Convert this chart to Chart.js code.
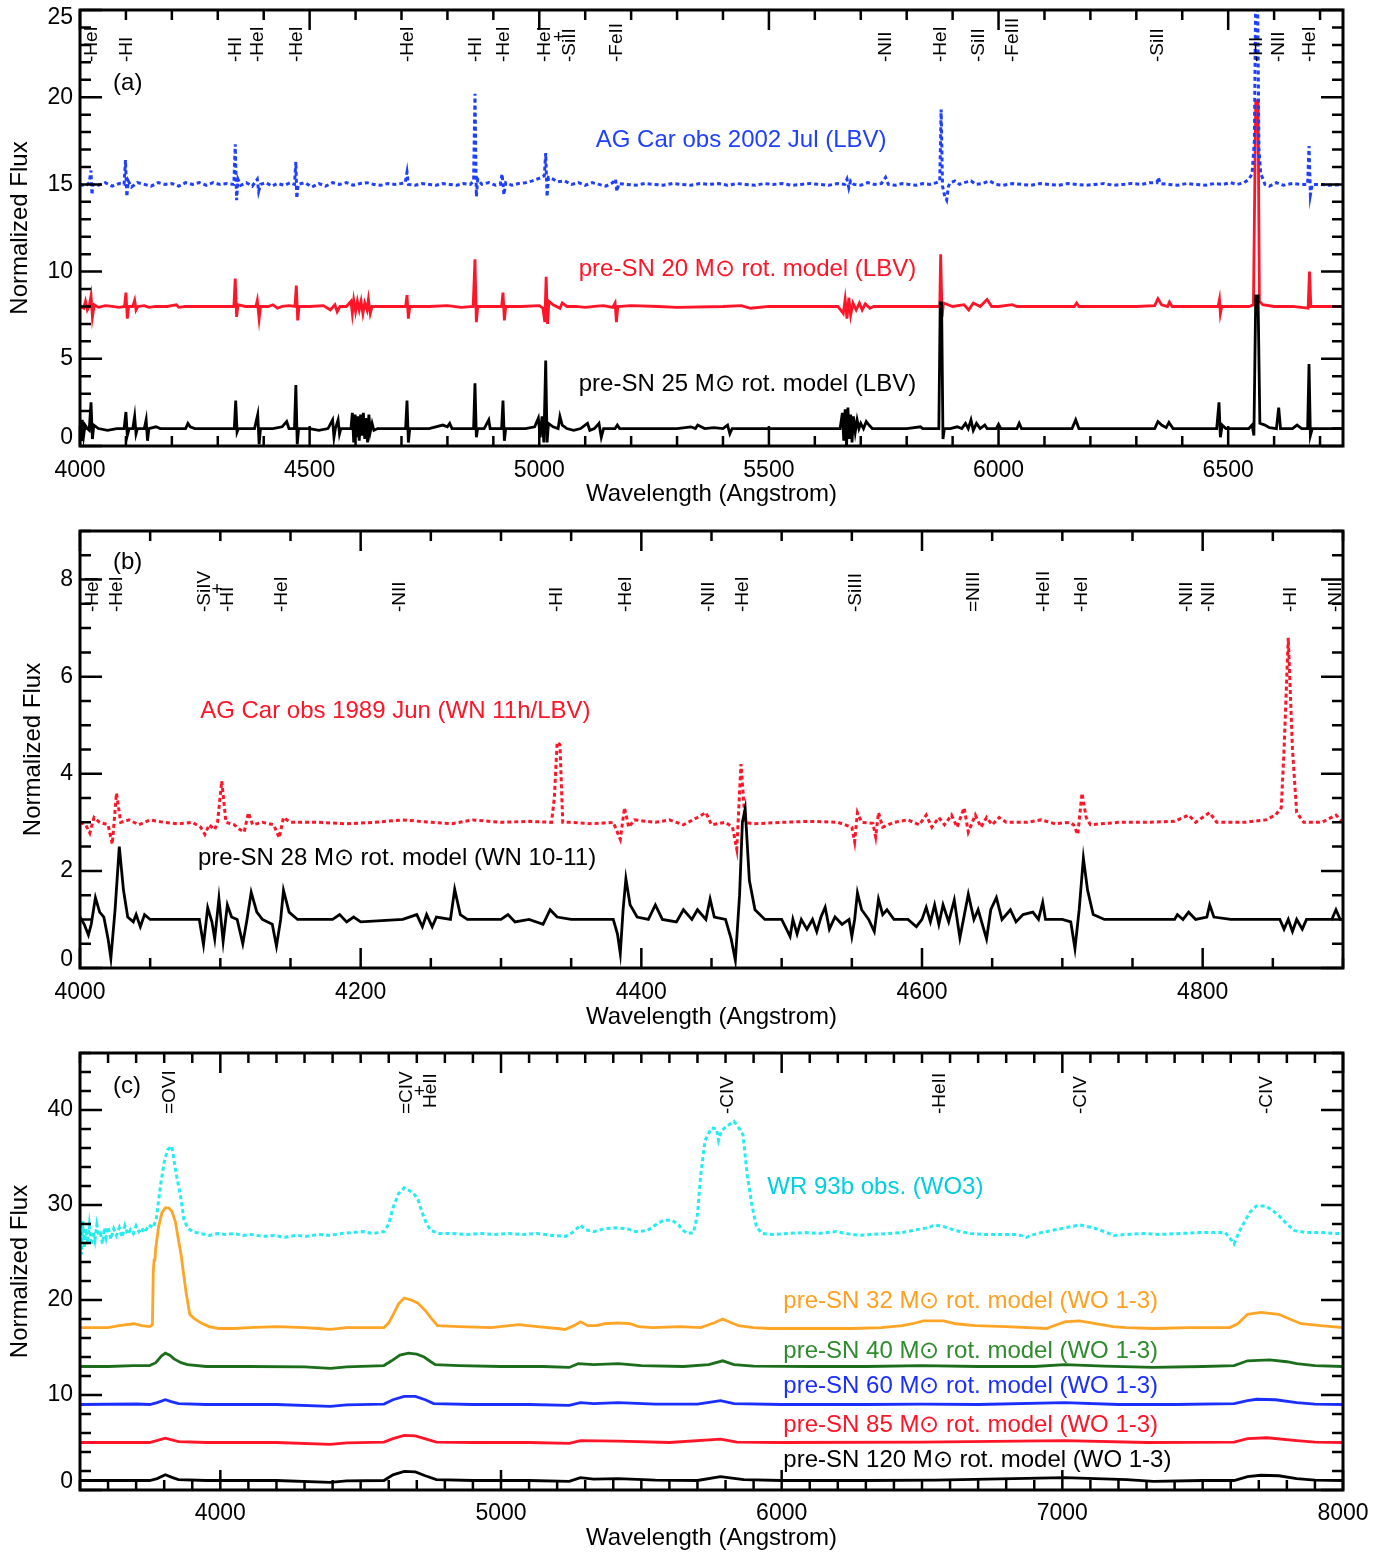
<!DOCTYPE html>
<html>
<head>
<meta charset="utf-8">
<title>AG Car / WR 93b spectra vs pre-SN models</title>
<script src="https://cdn.jsdelivr.net/npm/chart.js@4.4.1/dist/chart.umd.min.js"></script>
<style>
  body { margin: 0; background: #fff; }
  canvas { position: absolute; left: 0; }
</style>
</head>
<body>
<canvas id="panel-a" width="1396" height="520" style="top:0px"></canvas>
<canvas id="panel-b" width="1396" height="522" style="top:520px"></canvas>
<canvas id="panel-c" width="1396" height="513" style="top:1042px"></canvas>
<script>
// ---- panel (a): AG Car 2002 vs 20 / 25 Msun LBV models, [wavelength, flux]
const agCar2002 = [[4000,15.0],[4012,14.9],[4020,15.1],[4024,15.8],[4026,14.4],[4028,15.0],[4040,14.95],[4055,15.1],[4070,14.9],[4085,15.05],[4096,15.0],[4099,16.4],[4102,14.3],[4105,15.2],[4112,14.85],[4125,15.1],[4140,15.0],[4155,14.9],[4170,15.1],[4185,15.0],[4200,15.05],[4215,14.9],[4230,15.1],[4245,15.0],[4260,15.1],[4275,14.95],[4290,15.1],[4305,15.0],[4320,15.05],[4335,15.0],[4338,17.3],[4341,14.1],[4344,15.3],[4350,14.95],[4362,15.1],[4375,14.9],[4386,15.3],[4389,14.6],[4393,15.0],[4405,15.1],[4418,14.9],[4430,15.05],[4445,14.95],[4458,15.1],[4467,15.0],[4470,16.3],[4472,14.2],[4475,15.0],[4490,15.1],[4505,14.85],[4520,15.05],[4535,14.9],[4550,15.1],[4565,15.0],[4580,15.1],[4595,14.95],[4610,15.05],[4625,15.1],[4640,15.0],[4655,14.95],[4670,15.05],[4685,15.0],[4700,15.05],[4708,15.1],[4712,15.7],[4715,15.0],[4730,14.95],[4745,15.05],[4760,15.0],[4775,14.95],[4790,15.05],[4805,15.0],[4820,14.95],[4835,15.05],[4850,15.0],[4857,15.2],[4860,20.2],[4863,14.3],[4866,15.3],[4875,15.0],[4890,15.1],[4905,14.95],[4915,15.0],[4919,15.6],[4923,14.4],[4927,15.1],[4940,14.95],[4955,15.05],[4970,15.1],[4985,15.2],[4995,15.3],[5005,15.4],[5011,15.5],[5014,16.8],[5017,14.3],[5020,15.4],[5030,15.3],[5040,15.15],[5055,15.2],[5070,15.0],[5085,15.1],[5100,14.95],[5115,15.1],[5130,15.0],[5145,14.9],[5160,15.1],[5166,15.3],[5169,14.6],[5173,15.05],[5190,15.0],[5210,14.95],[5230,15.05],[5250,15.0],[5270,14.95],[5290,15.05],[5310,15.0],[5330,14.95],[5350,15.05],[5370,15.0],[5390,15.05],[5410,14.95],[5430,15.05],[5450,15.0],[5470,14.95],[5490,15.05],[5510,15.0],[5530,15.05],[5550,14.95],[5570,15.0],[5590,15.05],[5610,15.0],[5630,14.95],[5650,15.05],[5665,15.0],[5670,15.3],[5674,14.8],[5678,15.2],[5685,15.0],[5700,14.95],[5715,15.1],[5730,15.0],[5745,15.05],[5754,15.4],[5760,15.0],[5775,14.95],[5790,15.05],[5805,15.0],[5820,14.95],[5835,15.05],[5850,15.0],[5865,15.1],[5872,15.2],[5875,19.3],[5878,14.9],[5883,14.3],[5887,14.1],[5891,14.9],[5895,15.1],[5905,15.2],[5915,15.0],[5925,15.1],[5940,15.2],[5950,15.0],[5965,15.05],[5980,15.2],[5995,15.0],[6010,14.95],[6030,15.05],[6050,15.0],[6070,14.95],[6090,15.05],[6110,15.0],[6130,14.95],[6150,15.05],[6170,15.0],[6190,14.95],[6210,15.0],[6230,15.05],[6250,14.95],[6270,15.0],[6290,15.05],[6310,15.0],[6330,15.1],[6345,15.1],[6348,15.4],[6352,15.05],[6370,15.0],[6390,14.95],[6410,15.05],[6430,15.0],[6450,14.95],[6470,15.05],[6490,15.0],[6505,15.1],[6520,15.0],[6535,15.1],[6545,15.3],[6552,15.6],[6557,17.5],[6560,26.0],[6564,26.0],[6567,17.0],[6571,15.6],[6576,15.3],[6580,15.0],[6590,14.9],[6605,15.1],[6620,14.95],[6640,15.05],[6660,15.0],[6673,15.0],[6676,17.2],[6679,14.4],[6683,15.0],[6700,15.0],[6720,14.95],[6750,15.0]];

const model20 = [[4000,8.0],[4008,7.9],[4012,8.3],[4016,7.8],[4020,8.0],[4024,8.6],[4027,7.4],[4031,8.1],[4040,7.95],[4055,8.05],[4070,8.0],[4085,7.95],[4097,8.0],[4100,8.8],[4103,7.3],[4106,8.0],[4115,8.0],[4119,8.35],[4122,7.8],[4126,8.0],[4140,8.05],[4150,7.95],[4165,8.0],[4190,8.0],[4210,8.1],[4215,7.95],[4230,8.0],[4300,8.0],[4335,8.0],[4338,9.6],[4341,7.4],[4344,8.1],[4360,8.0],[4383,8.0],[4386,8.35],[4390,7.3],[4393,8.0],[4410,8.0],[4420,8.1],[4430,7.9],[4440,8.0],[4455,8.05],[4468,8.0],[4471,9.2],[4474,7.2],[4477,8.0],[4500,8.0],[4530,8.05],[4545,7.8],[4555,8.1],[4560,7.7],[4566,8.0],[4580,8.0],[4590,8.3],[4593,7.6],[4596,8.35],[4600,7.7],[4604,8.3],[4608,7.8],[4612,8.3],[4616,7.6],[4620,8.2],[4625,7.8],[4628,8.4],[4632,7.6],[4636,8.0],[4650,8.0],[4700,8.0],[4709,8.0],[4712,8.65],[4715,7.3],[4718,8.0],[4760,8.0],[4800,8.05],[4830,7.95],[4856,8.0],[4860,10.7],[4863,7.1],[4866,8.0],[4900,8.0],[4918,8.0],[4921,8.8],[4924,7.2],[4927,8.0],[4960,8.0],[5000,8.05],[5008,7.9],[5012,7.1],[5015,9.7],[5018,7.0],[5021,8.3],[5030,8.1],[5045,7.9],[5050,8.2],[5060,8.0],[5080,8.0],[5100,7.95],[5120,8.0],[5140,8.05],[5160,7.95],[5165,8.2],[5168,7.1],[5171,8.0],[5200,8.05],[5260,8.0],[5300,7.95],[5400,8.0],[5440,8.05],[5460,7.9],[5500,8.0],[5580,8.0],[5650,8.0],[5662,7.6],[5666,8.4],[5670,7.3],[5674,8.5],[5678,7.5],[5683,8.2],[5690,7.8],[5697,8.2],[5703,7.8],[5710,8.15],[5720,7.9],[5728,8.0],[5760,8.0],[5840,8.0],[5872,8.0],[5874,11.0],[5877,7.4],[5880,8.2],[5900,8.0],[5925,8.1],[5935,7.8],[5945,8.2],[5960,8.0],[5975,8.4],[5985,8.0],[6000,8.0],[6030,8.1],[6040,8.0],[6100,8.0],[6165,8.0],[6170,8.2],[6175,8.0],[6300,8.0],[6340,8.05],[6347,8.45],[6355,8.1],[6368,8.0],[6372,8.25],[6378,8.0],[6440,8.0],[6478,8.0],[6481,8.4],[6483,7.6],[6486,8.0],[6545,8.0],[6555,8.1],[6560,19.8],[6565,19.8],[6568,8.3],[6575,8.1],[6600,8.0],[6640,8.0],[6674,7.9],[6677,10.0],[6680,8.0],[6720,8.0],[6750,8.0]];

const model25 = [[4000,1.0],[4003,0.3],[4005,1.5],[4008,0.6],[4011,1.2],[4016,1.0],[4020,0.9],[4024,2.5],[4027,0.4],[4030,1.2],[4040,1.0],[4060,0.9],[4080,1.0],[4096,1.0],[4100,1.95],[4103,0.6],[4107,1.0],[4115,1.0],[4119,1.7],[4122,0.7],[4125,1.0],[4140,1.0],[4144,1.5],[4147,0.3],[4150,1.0],[4165,1.1],[4175,1.0],[4230,1.0],[4235,1.3],[4240,1.1],[4250,1.0],[4330,1.0],[4336,1.0],[4339,2.6],[4342,0.8],[4345,1.0],[4380,1.0],[4387,1.8],[4390,0.1],[4393,1.0],[4420,1.0],[4440,1.1],[4450,1.4],[4455,1.0],[4467,1.0],[4470,3.5],[4473,0.1],[4476,1.0],[4500,1.0],[4520,0.9],[4540,1.0],[4550,1.5],[4553,0.5],[4556,1.0],[4562,1.5],[4565,0.7],[4568,1.0],[4590,1.0],[4593,1.9],[4596,0.2],[4599,1.8],[4602,0.5],[4605,1.7],[4608,0.3],[4611,1.8],[4614,0.6],[4617,1.9],[4620,0.4],[4623,1.6],[4626,0.2],[4629,1.8],[4632,0.8],[4636,1.3],[4640,0.9],[4648,1.0],[4700,1.0],[4709,1.0],[4712,2.6],[4715,0.2],[4718,1.0],[4760,1.0],[4790,1.2],[4800,1.1],[4805,1.3],[4810,1.0],[4850,1.0],[4857,1.0],[4860,3.6],[4863,0.5],[4866,1.0],[4880,1.0],[4890,1.5],[4893,1.0],[4918,1.0],[4921,2.6],[4924,0.3],[4927,1.0],[4970,1.0],[4990,1.1],[4998,1.6],[5002,0.5],[5006,1.7],[5010,0.2],[5014,4.9],[5017,0.2],[5020,1.3],[5030,1.1],[5041,1.0],[5045,1.7],[5050,1.2],[5060,1.0],[5075,0.9],[5090,1.0],[5105,1.3],[5110,0.9],[5120,1.0],[5130,1.3],[5135,0.5],[5140,1.0],[5165,1.0],[5170,1.2],[5175,1.0],[5200,1.0],[5300,1.0],[5330,1.1],[5340,1.0],[5345,1.2],[5360,1.0],[5380,1.05],[5400,1.0],[5410,1.2],[5415,0.7],[5420,1.0],[5500,1.0],[5600,1.0],[5655,1.0],[5660,1.9],[5663,0.3],[5666,2.1],[5669,0.0],[5672,2.2],[5675,0.4],[5678,1.8],[5681,0.2],[5684,1.7],[5688,0.8],[5692,1.5],[5696,1.0],[5700,1.3],[5706,1.0],[5712,1.4],[5718,1.2],[5725,1.0],[5760,1.0],[5800,1.0],[5830,1.1],[5835,1.0],[5870,1.0],[5873,8.2],[5876,8.2],[5879,0.4],[5882,1.0],[5895,1.0],[5910,1.1],[5920,1.0],[5928,1.3],[5934,1.0],[5940,1.5],[5945,0.9],[5952,1.3],[5960,1.0],[5970,1.2],[5975,1.0],[5995,1.0],[6000,1.25],[6005,1.0],[6040,1.0],[6045,1.3],[6050,1.0],[6160,1.0],[6168,1.5],[6175,1.0],[6340,1.0],[6347,1.4],[6355,1.2],[6365,1.05],[6371,1.35],[6380,1.0],[6475,1.0],[6480,2.5],[6483,0.5],[6487,1.2],[6495,1.0],[6545,1.0],[6552,1.2],[6556,0.6],[6560,8.6],[6565,8.6],[6569,1.3],[6580,1.2],[6590,1.05],[6605,1.0],[6610,2.2],[6614,1.0],[6640,1.0],[6650,1.2],[6660,1.0],[6673,1.0],[6676,4.7],[6679,0.6],[6683,1.0],[6720,1.0],[6750,1.0]];

// ---- panel (b): AG Car 1989 vs 28 Msun WN model
const agCar1989 = [[4000,3.0],[4004,2.95],[4007,2.78],[4010,3.1],[4014,3.0],[4020,2.95],[4023,2.55],[4026,3.6],[4029,3.0],[4035,3.05],[4042,2.95],[4050,3.05],[4060,3.0],[4070,2.97],[4080,3.0],[4086,2.9],[4089,2.75],[4092,2.95],[4096,2.85],[4098,3.0],[4101,3.85],[4104,3.0],[4110,2.95],[4114,2.85],[4117,2.8],[4120,3.2],[4123,2.95],[4130,3.0],[4138,2.95],[4142,2.68],[4145,3.1],[4150,3.0],[4170,3.0],[4190,2.97],[4210,3.0],[4230,3.05],[4250,3.0],[4265,2.97],[4280,3.05],[4300,3.0],[4320,3.02],[4336,3.0],[4338,3.5],[4340,4.65],[4342,4.6],[4344,3.0],[4350,3.0],[4365,2.97],[4380,3.0],[4385,2.65],[4388,3.3],[4391,2.9],[4395,3.05],[4410,3.0],[4420,3.05],[4430,2.95],[4440,3.1],[4446,3.2],[4450,2.95],[4460,3.0],[4465,2.9],[4468,2.45],[4471,4.2],[4474,3.0],[4480,2.97],[4500,3.0],[4520,3.02],[4540,3.0],[4550,2.9],[4552,2.6],[4554,3.2],[4557,3.0],[4565,2.98],[4567,2.7],[4569,3.2],[4572,2.9],[4580,3.0],[4590,3.05],[4598,2.95],[4603,3.15],[4607,2.9],[4612,3.1],[4616,2.95],[4621,3.15],[4625,2.9],[4630,3.3],[4633,2.8],[4638,3.15],[4642,2.9],[4646,3.1],[4650,2.95],[4655,3.1],[4660,3.0],[4675,3.0],[4685,3.05],[4695,2.97],[4705,3.0],[4708,2.95],[4711,2.75],[4714,3.6],[4717,3.1],[4720,2.95],[4740,3.0],[4760,3.0],[4780,3.02],[4790,3.15],[4795,3.0],[4805,3.2],[4810,3.0],[4830,3.0],[4845,3.05],[4852,3.15],[4856,3.3],[4858,4.5],[4861,6.8],[4864,4.5],[4867,3.2],[4872,3.0],[4885,3.0],[4895,3.15],[4900,3.0]];

const model28 = [[4000,1.05],[4003,0.9],[4006,0.68],[4008,0.9],[4011,1.45],[4014,1.15],[4017,1.05],[4020,0.6],[4022,0.2],[4025,1.2],[4028,2.5],[4031,1.6],[4034,1.05],[4038,0.95],[4040,1.1],[4043,0.85],[4046,1.1],[4050,1.0],[4070,1.0],[4085,1.0],[4088,0.48],[4091,1.24],[4094,0.95],[4096,0.6],[4099,1.43],[4102,0.55],[4105,1.3],[4108,1.05],[4112,1.0],[4116,0.5],[4119,1.0],[4122,1.56],[4126,1.15],[4130,1.0],[4137,0.9],[4140,0.45],[4143,1.0],[4145,1.6],[4149,1.15],[4155,1.0],[4180,1.0],[4185,1.1],[4190,0.95],[4195,1.05],[4200,0.95],[4230,1.0],[4240,1.1],[4244,0.85],[4247,1.1],[4251,0.85],[4254,1.05],[4264,1.0],[4267,1.62],[4271,1.1],[4276,1.0],[4300,1.0],[4305,1.1],[4310,0.95],[4320,1.0],[4330,0.9],[4335,1.2],[4340,1.05],[4350,1.0],[4380,1.0],[4383,0.7],[4385,0.3],[4387,1.2],[4389,1.84],[4392,1.3],[4397,1.05],[4405,1.0],[4410,1.3],[4415,1.0],[4425,0.95],[4430,1.2],[4436,1.0],[4440,1.2],[4446,1.0],[4449,1.42],[4452,1.05],[4460,1.0],[4464,0.6],[4467,0.16],[4470,1.5],[4472,3.0],[4474,3.28],[4477,1.8],[4481,1.2],[4488,1.0],[4500,1.0],[4506,0.65],[4508,1.0],[4511,0.7],[4514,1.0],[4518,0.8],[4522,1.0],[4525,0.75],[4528,1.05],[4531,1.25],[4534,0.8],[4538,1.05],[4543,0.9],[4548,1.0],[4550,0.65],[4552,1.0],[4554,1.55],[4557,1.2],[4562,1.0],[4566,0.75],[4569,1.42],[4572,1.1],[4575,1.2],[4580,1.0],[4590,1.0],[4596,0.85],[4600,1.0],[4603,1.25],[4606,0.95],[4609,1.3],[4612,0.9],[4615,1.3],[4619,0.95],[4623,1.4],[4627,0.62],[4633,1.52],[4637,1.0],[4640,1.2],[4643,0.9],[4646,0.6],[4649,1.2],[4653,1.45],[4657,1.0],[4663,1.2],[4667,0.95],[4672,1.1],[4679,1.15],[4683,1.0],[4686,1.35],[4688,1.0],[4700,1.0],[4706,0.95],[4709,0.4],[4712,1.2],[4715,2.26],[4718,1.6],[4722,1.1],[4730,1.0],[4760,1.0],[4780,1.0],[4782,1.1],[4786,1.0],[4790,1.15],[4795,1.0],[4803,1.05],[4805,1.3],[4808,1.05],[4820,1.0],[4855,1.0],[4858,0.8],[4861,1.0],[4864,0.75],[4867,1.0],[4871,0.8],[4874,1.0],[4885,1.0],[4892,1.0],[4895,1.2],[4898,1.0],[4900,1.0]];

// ---- panel (c): WR 93b vs WO models
const wr93b = [[3500,26.5],[3505,24.8],[3510,28.3],[3515,25.5],[3520,27.5],[3527,26.0],[3533,27.8],[3540,25.8],[3547,27.2],[3553,26.3],[3560,27.9],[3567,26.8],[3573,27.0],[3580,25.9],[3587,27.6],[3593,26.6],[3600,27.7],[3610,26.4],[3620,27.5],[3630,26.8],[3640,27.6],[3650,26.6],[3660,27.8],[3670,26.9],[3680,27.4],[3690,27.0],[3700,27.8],[3710,27.2],[3720,27.6],[3730,27.1],[3745,27.9],[3760,27.6],[3772,28.6],[3788,32.3],[3800,34.5],[3812,35.8],[3827,36.2],[3842,33.4],[3859,30.8],[3870,28.5],[3883,27.6],[3900,27.2],[3930,27.0],[3960,26.8],[3990,27.0],[4020,26.9],[4050,27.0],[4080,26.8],[4110,26.9],[4150,26.7],[4190,26.8],[4230,26.6],[4270,26.8],[4310,26.7],[4350,26.9],[4390,26.8],[4430,27.0],[4470,27.1],[4510,27.2],[4545,27.0],[4584,27.2],[4600,28.0],[4615,29.7],[4635,31.2],[4655,31.8],[4687,31.3],[4705,30.5],[4719,29.2],[4735,28.0],[4751,27.3],[4780,27.0],[4830,27.0],[4880,26.9],[4930,27.0],[4980,26.9],[5030,27.0],[5080,26.9],[5130,27.0],[5180,26.8],[5230,26.7],[5260,27.2],[5283,27.9],[5300,27.4],[5330,27.2],[5370,27.5],[5410,27.6],[5450,27.5],[5480,27.2],[5520,27.3],[5550,27.9],[5580,28.4],[5610,28.4],[5633,27.9],[5650,27.3],[5665,27.0],[5686,27.1],[5700,29.0],[5711,33.0],[5727,36.8],[5750,38.1],[5768,38.0],[5775,36.8],[5785,37.8],[5800,38.2],[5830,38.8],[5850,38.0],[5862,37.4],[5878,33.0],[5894,30.0],[5910,27.7],[5930,27.0],[5970,26.9],[6020,27.0],[6080,27.1],[6130,27.0],[6195,27.2],[6230,27.0],[6276,26.8],[6320,26.9],[6380,27.0],[6430,27.1],[6480,27.4],[6520,27.6],[6546,27.9],[6580,27.7],[6620,27.3],[6673,27.0],[6720,26.9],[6780,26.9],[6840,26.9],[6872,26.6],[6910,27.0],[6960,27.3],[7010,27.6],[7063,27.9],[7110,27.6],[7150,27.2],[7183,26.8],[7230,26.9],[7290,27.0],[7350,26.9],[7420,27.0],[7490,27.1],[7550,27.1],[7580,27.1],[7600,26.4],[7612,25.9],[7630,27.2],[7652,28.4],[7670,29.3],[7692,29.9],[7724,29.9],[7750,29.4],[7771,28.9],[7800,28.0],[7828,27.3],[7870,27.1],[7920,27.1],[7978,27.0],[8000,27.0]];

const model32 = [[3500,17.1],[3550,17.1],[3600,17.1],[3640,17.3],[3692,17.5],[3720,17.3],[3748,17.2],[3758,17.4],[3761,23.0],[3764,24.2],[3767,24.3],[3770,25.5],[3780,27.7],[3792,29.2],[3804,29.7],[3816,29.7],[3828,29.3],[3840,28.2],[3851,26.3],[3860,24.8],[3867,23.2],[3878,20.8],[3891,18.5],[3905,18.1],[3930,17.6],[3960,17.2],[3995,17.0],[4050,17.0],[4100,17.1],[4201,17.2],[4300,17.1],[4350,17.0],[4392,16.9],[4450,17.1],[4583,17.1],[4600,17.6],[4615,18.4],[4635,19.6],[4655,20.2],[4680,20.0],[4703,19.7],[4730,18.9],[4751,18.1],[4774,17.3],[4850,17.2],[4965,17.1],[5061,17.4],[5130,17.2],[5200,17.0],[5228,16.9],[5260,17.3],[5283,17.7],[5310,17.3],[5340,17.3],[5370,17.5],[5418,17.6],[5460,17.5],[5490,17.2],[5540,17.1],[5639,17.2],[5711,17.1],[5760,17.6],[5790,18.0],[5820,17.6],[5846,17.3],[5900,17.1],[5956,17.0],[6100,17.0],[6250,17.0],[6355,17.1],[6430,17.3],[6466,17.5],[6505,17.8],[6577,17.8],[6620,17.5],[6689,17.3],[6800,17.2],[6944,17.0],[6980,17.4],[7008,17.7],[7060,17.8],[7103,17.6],[7180,17.2],[7229,17.1],[7325,17.0],[7450,17.1],[7596,17.1],[7625,17.5],[7660,18.5],[7707,18.7],[7771,18.5],[7810,18.0],[7851,17.5],[7920,17.3],[8000,17.1]];

const model40 = [[3500,13.0],[3600,13.0],[3690,13.1],[3748,13.1],[3770,13.4],[3790,14.1],[3804,14.4],[3820,14.2],[3835,13.8],[3860,13.4],[3883,13.2],[3950,13.0],[4100,13.0],[4300,12.95],[4392,12.8],[4450,12.95],[4583,13.1],[4610,13.6],[4640,14.2],[4670,14.4],[4700,14.3],[4726,14.0],[4750,13.5],[4766,13.2],[4850,13.1],[5000,13.0],[5150,13.0],[5243,12.9],[5275,13.3],[5330,13.2],[5418,13.3],[5500,13.1],[5650,13.0],[5740,13.2],[5790,13.6],[5830,13.2],[5900,13.05],[6100,13.0],[6300,13.0],[6500,13.1],[6700,13.0],[6900,13.0],[7008,13.2],[7150,13.05],[7325,12.9],[7500,13.0],[7612,13.1],[7660,13.6],[7739,13.7],[7800,13.5],[7835,13.3],[7900,13.1],[8000,13.0]];

const model60 = [[3500,9.0],[3700,9.05],[3748,9.0],[3775,9.2],[3804,9.5],[3825,9.3],[3851,9.1],[3950,9.0],[4200,9.0],[4392,8.8],[4450,8.95],[4583,9.05],[4615,9.5],[4655,9.85],[4695,9.85],[4730,9.5],[4760,9.1],[4900,9.0],[5100,9.0],[5243,8.9],[5283,9.2],[5330,9.1],[5418,9.2],[5550,9.05],[5700,9.05],[5782,9.4],[5830,9.1],[6000,9.0],[6300,9.0],[6500,9.05],[6700,9.0],[7008,9.2],[7200,9.0],[7400,9.0],[7612,9.1],[7660,9.4],[7692,9.55],[7760,9.5],[7835,9.2],[7900,9.05],[8000,9.0]];

const model85 = [[3500,5.0],[3748,5.0],[3804,5.45],[3851,5.1],[3950,5.0],[4200,5.0],[4392,4.8],[4450,4.95],[4583,5.05],[4615,5.4],[4655,5.75],[4695,5.7],[4740,5.3],[4770,5.05],[4900,5.0],[5100,5.0],[5243,4.9],[5283,5.2],[5418,5.15],[5600,5.0],[5782,5.35],[5840,5.05],[6000,5.0],[6500,5.05],[7008,5.2],[7300,5.0],[7612,5.05],[7660,5.4],[7730,5.5],[7835,5.2],[7900,5.05],[8000,5.0]];

const model120 = [[3500,1.0],[3748,1.0],[3775,1.2],[3804,1.6],[3830,1.3],[3851,1.1],[3950,1.0],[4200,1.0],[4392,0.8],[4450,0.95],[4583,1.0],[4615,1.6],[4655,1.95],[4695,1.9],[4730,1.5],[4770,1.1],[4900,1.0],[5100,1.0],[5243,0.9],[5283,1.3],[5330,1.15],[5418,1.2],[5550,1.05],[5700,1.0],[5782,1.4],[5865,1.1],[6000,1.0],[6300,1.0],[6550,1.05],[7008,1.3],[7229,1.1],[7325,0.9],[7500,1.0],[7612,1.0],[7660,1.4],[7707,1.55],[7771,1.5],[7835,1.2],[7900,1.05],[8000,1.0]];

// tick labels
const xTicksA = [4000, 4500, 5000, 5500, 6000, 6500];
const yTicksA = [0, 5, 10, 15, 20, 25];
const xTicksB = [4000, 4200, 4400, 4600, 4800];
const yTicksB = [0, 2, 4, 6, 8];
const xTicksC = [4000, 5000, 6000, 7000, 8000];
const yTicksC = [0, 10, 20, 30, 40];

// line identifications along the top of each panel
const linesA = [[4026,'-HeI'],[4102,'-HI'],[4340,'-HI'],[4388,'-HeI'],[4471,'-HeI'],[4713,'-HeI'],[4861,'-HI'],[4922,'-HeI'],[5012,'-HeI'],[5066,'-SiII'],[5169,'-FeII'],[5754,'-NII'],[5875,'-HeI'],[5958,'-SiII'],[6032,'-FeIII'],[6347,'-SiII'],[6563,'-HI'],[6611,'-NII'],[6678,'-HeI']];
const linesB = [[4009,'-HeI'],[4026,'-HeI'],[4089,'-SiIV'],[4105,'-HI'],[4144,'-HeI'],[4228,'-NII'],[4340,'-HI'],[4389,'-HeI'],[4448,'-NII'],[4472,'-HeI'],[4553,'-SiIII'],[4637,'=NIII'],[4687,'-HeII'],[4714,'-HeI'],[4789,'-NII'],[4804,'-NII'],[4863,'-HI'],[4895,'-NII']];
const linesC = [[3821,'=OVI'],[4666,'=CIV'],[4751,'HeII',6],[5807,'-CIV'],[6562,'-HeII'],[7065,'-CIV'],[7728,'-CIV']];

// text notes: [wavelength, flux, text, colour]
const notesA = [[4072,20.8,'(a)','#000'],[5123,17.5,'AG Car obs 2002 Jul (LBV)','#1f3fff'],[5086,10.1,'pre-SN 20 M\u2299 rot. model (LBV)','#ff1428'],[5086,3.55,'pre-SN 25 M\u2299 rot. model (LBV)','#000']];
const notesB = [[4023.5,8.35,'(b)','#000'],[4085.6,5.29,'AG Car obs 1989 Jun (WN 11h/LBV)','#ff1428'],[4084,2.26,'pre-SN 28 M\u2299 rot. model (WN 10-11)','#000']];
const notesC = [[3618,42.5,'(c)','#000'],[5949,31.9,'WR 93b obs. (WO3)','#00cfe0'],[6006,19.9,'pre-SN 32 M\u2299 rot. model (WO 1-3)','#ffa020'],[6006,14.6,'pre-SN 40 M\u2299 rot. model (WO 1-3)','#2e8b2e'],[6006,10.9,'pre-SN 60 M\u2299 rot. model (WO 1-3)','#1a2eff'],[6006,6.8,'pre-SN 85 M\u2299 rot. model (WO 1-3)','#ff1428'],[6006,3.16,'pre-SN 120 M\u2299 rot. model (WO 1-3)','#000']];

const FONT = '"Liberation Sans", Arial, Helvetica, sans-serif';
Chart.defaults.font.family = FONT;
Chart.defaults.color = '#000';

const line = (pts, color, dotted, order) => ({
  data: pts.map(([x, y]) => ({x, y})),
  borderColor: color,
  borderWidth: dotted ? 3 : 2.8,
  borderDash: dotted ? [4, 3] : [],
  pointRadius: 0,
  tension: 0,
  order: order,
});

// IDL style box: frame, inward ticks on all sides, y labels, line ids and notes
const boxPlugin = (spec) => ({
  id: 'box',
  afterDatasetsDraw(chart) {
    const {ctx, chartArea: a, scales: {x, y}} = chart;
    ctx.save();
    ctx.strokeStyle = '#000';
    ctx.lineWidth = 2.5;
    ctx.beginPath();
    for (let v = x.min; v <= x.max + 1e-6; v += spec.xMinor) {
      const px = x.getPixelForValue(v);
      const len = spec.xTicks.some((t) => Math.abs(t - v) < 1e-6) ? 20 : 10;
      ctx.moveTo(px, a.top); ctx.lineTo(px, a.top + len);
      ctx.moveTo(px, a.bottom); ctx.lineTo(px, a.bottom - len);
    }
    for (let v = y.min; v <= y.max + 1e-6; v += spec.yMinor) {
      const py = y.getPixelForValue(v);
      const len = spec.yTicks.some((t) => Math.abs(t - v) < 1e-6) ? 22 : 11;
      ctx.moveTo(a.left, py); ctx.lineTo(a.left + len, py);
      ctx.moveTo(a.right, py); ctx.lineTo(a.right - len, py);
    }
    ctx.stroke();
    ctx.lineWidth = 3;
    ctx.strokeRect(a.left, a.top, a.right - a.left, a.bottom - a.top);

    // y tick labels, end labels kept inside the box height
    ctx.fillStyle = '#000';
    ctx.font = '23px ' + FONT;
    ctx.textAlign = 'right';
    ctx.textBaseline = 'middle';
    spec.yTicks.forEach((v) => {
      const py = Math.min(Math.max(y.getPixelForValue(v), a.top + 8), a.bottom - 8);
      ctx.fillText(String(v), a.left - 7, py);
    });

    // rotated line identifications
    ctx.font = '19px ' + FONT;
    ctx.textAlign = 'left';
    spec.lines.forEach(([wl, txt, dy]) => {
      ctx.save();
      ctx.translate(x.getPixelForValue(wl), a.top + spec.lineBase - (dy || 0));
      ctx.rotate(-Math.PI / 2);
      ctx.fillText(txt, 0, 0);
      ctx.restore();
    });
    ctx.textAlign = 'center';
    spec.plus.forEach(([wl, off]) => {
      ctx.fillText('+', x.getPixelForValue(wl), a.top + off);
    });

    ctx.font = '24px ' + FONT;
    ctx.textAlign = 'left';
    spec.notes.forEach(([wl, f, txt, col]) => {
      ctx.fillStyle = col;
      ctx.fillText(txt, x.getPixelForValue(wl), y.getPixelForValue(f));
    });
    ctx.restore();
  },
});

function makeScales(o) {
  return {
    x: {
      type: 'linear', min: o.xMin, max: o.xMax,
      grid: {display: false, drawTicks: false},
      border: {display: false},
      afterBuildTicks: (s) => { s.ticks = o.xTicks.map((v) => ({value: v})); },
      afterFit: (s) => { s.height = o.xHeight; s.paddingLeft = 0; s.paddingRight = 0; },
      ticks: {padding: o.xTickPad, font: {size: 23}, autoSkip: false, maxRotation: 0, callback: (v) => String(v)},
      title: {display: true, text: 'Wavelength (Angstrom)', font: {size: 24}, padding: {top: 0, bottom: o.xTitlePad}},
    },
    y: {
      type: 'linear', min: o.yMin, max: o.yMax,
      grid: {display: false, drawTicks: false},
      border: {display: false},
      afterBuildTicks: (s) => { s.ticks = o.yTicks.map((v) => ({value: v})); },
      afterFit: (s) => { s.width = 80; s.paddingTop = 0; s.paddingBottom = 0; },
      ticks: {display: false},
      title: {display: true, text: 'Normalized Flux', font: {size: 24}, padding: {top: o.yTitlePad, bottom: 0}},
    },
  };
}

function drawPanel(id, datasets, o, spec) {
  return new Chart(document.getElementById(id), {
    type: 'line',
    data: {datasets: datasets},
    options: {
      responsive: false,
      animation: false,
      layout: {padding: {left: 0, right: 53, top: o.top, bottom: 0}},
      plugins: {legend: {display: false}, tooltip: {enabled: false}},
      scales: makeScales(o),
    },
    plugins: [boxPlugin(spec)],
  });
}

drawPanel('panel-a', [
  line(agCar2002, '#1f3fff', true, 0),
  line(model25, '#000', false, 1),
  line(model20, '#ff1428', false, 2),
], {xMin: 4000, xMax: 6750, xTicks: xTicksA, yMin: 0, yMax: 25, yTicks: yTicksA, top: 10, xHeight: 74, xTickPad: 11, xTitlePad: 11, yTitlePad: 6},
{xTicks: xTicksA, xMinor: 100, yTicks: yTicksA, yMinor: 1, lines: linesA, lineBase: 52, plus: [[5042, 28]], notes: notesA});

drawPanel('panel-b', [
  line(model28, '#000', false, 0),
  line(agCar1989, '#ff1428', true, 1),
], {xMin: 4000, xMax: 4900, xTicks: xTicksB, yMin: 0, yMax: 9, yTicks: yTicksB, top: 11, xHeight: 74, xTickPad: 11, xTitlePad: 10, yTitlePad: 19},
{xTicks: xTicksB, xMinor: 50, yTicks: yTicksB, yMinor: 0.5, lines: linesB, lineBase: 81, plus: [[4097.7, 59]], notes: notesB});

drawPanel('panel-c', [
  line(wr93b, '#22eef0', true, 0),
  line(model32, '#ffa526', false, 1),
  line(model40, '#1c6e1c', false, 2),
  line(model60, '#1a2eff', false, 3),
  line(model85, '#ff1428', false, 4),
  line(model120, '#000', false, 5),
], {xMin: 3500, xMax: 8000, xTicks: xTicksC, yMin: 0, yMax: 46, yTicks: yTicksC, top: 11, xHeight: 65, xTickPad: 10, xTitlePad: 2, yTitlePad: 6},
{xTicks: xTicksC, xMinor: 100, yTicks: yTicksC, yMinor: 2, lines: linesC, lineBase: 61, plus: [[4708.6, 39]], notes: notesC});
</script>
</body>
</html>
